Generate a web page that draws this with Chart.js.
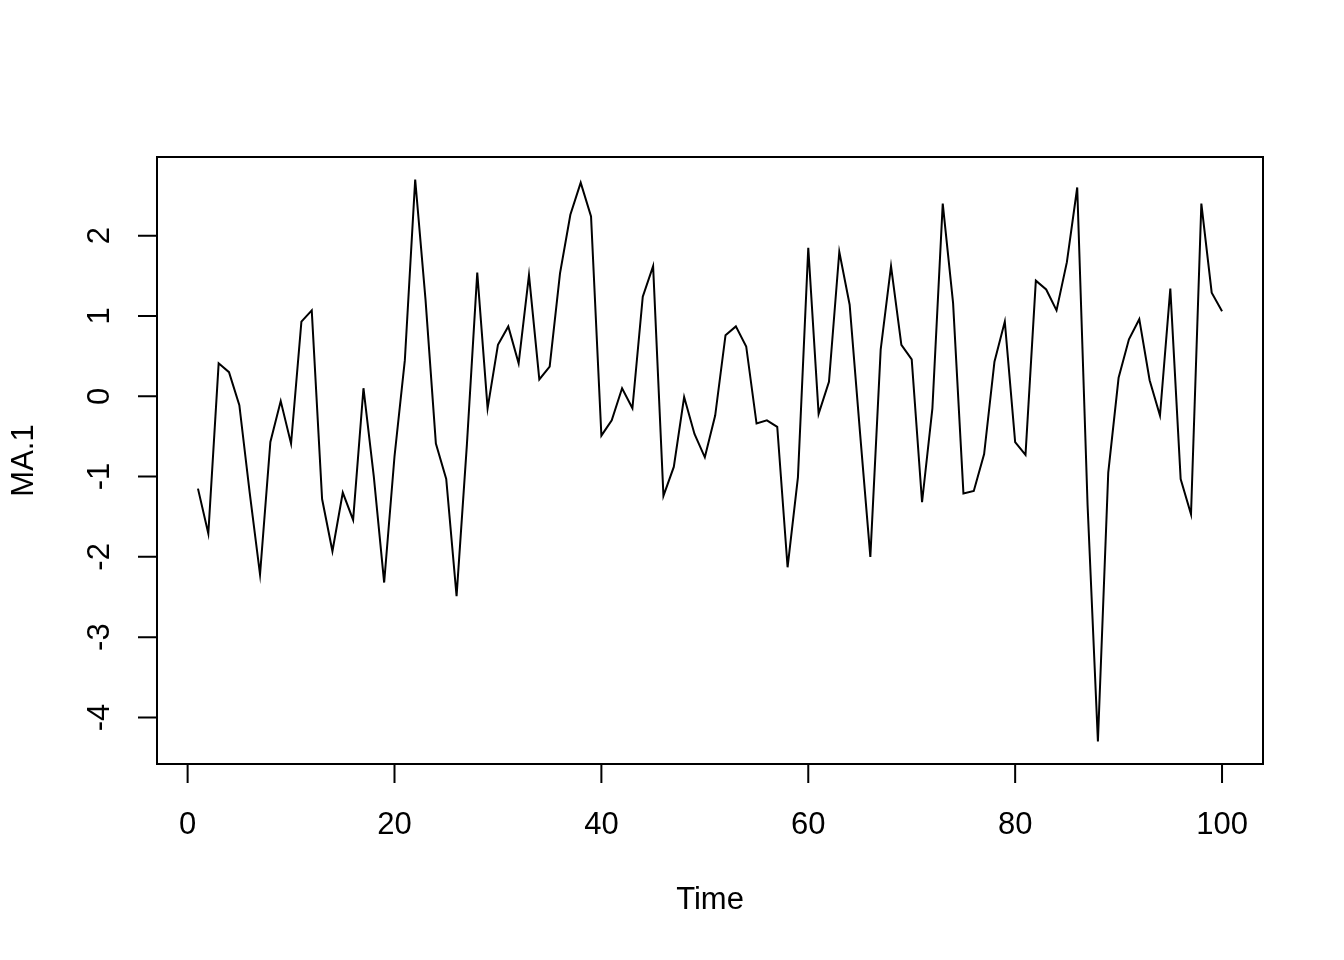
<!DOCTYPE html>
<html>
<head>
<meta charset="utf-8">
<script src="https://cdn.jsdelivr.net/npm/chart.js@4"></script>
<style>
  html, body { margin: 0; padding: 0; background: #fff; }
  #wrap { width: 1344px; height: 960px; }
</style>
</head>
<body>
<div id="wrap"><canvas id="maChart"></canvas></div>
<script>
// time index 1..100
const time = Array.from({ length: 100 }, (_, i) => i + 1);

// MA.1 series
const ma1 = [
  -1.15, -1.71, 0.41, 0.30, -0.11, -1.20, -2.22, -0.57, -0.06, -0.59,
  0.93, 1.07, -1.28, -1.93, -1.20, -1.54, 0.10, -1.00, -2.32, -0.75,
  0.45, 2.70, 1.20, -0.59, -1.03, -2.49, -0.60, 1.54, -0.15, 0.64,
  0.87, 0.41, 1.51, 0.21, 0.37, 1.53, 2.26, 2.66, 2.24, -0.49,
  -0.30, 0.10, -0.15, 1.24, 1.62, -1.24, -0.88, -0.01, -0.47, -0.76,
  -0.24, 0.76, 0.87, 0.62, -0.34, -0.30, -0.38, -2.13, -1.01, 1.85,
  -0.22, 0.18, 1.80, 1.14, -0.45, -2.00, 0.58, 1.62, 0.64, 0.46,
  -1.32, -0.15, 2.40, 1.16, -1.21, -1.18, -0.72, 0.43, 0.93, -0.57,
  -0.73, 1.44, 1.33, 1.07, 1.67, 2.60, -1.35, -4.30, -0.95, 0.23,
  0.71, 0.96, 0.20, -0.24, 1.34, -1.03, -1.47, 2.40, 1.29, 1.06
];

const xTicks = [0, 20, 40, 60, 80, 100];
const yTicks = [-4, -3, -2, -1, 0, 1, 2];
const xTitle = "Time";
const yTitle = "MA.1";

// R style 4% extension of the data range
function pad(arr) {
  const lo = Math.min(...arr), hi = Math.max(...arr);
  const d = (hi - lo) * 0.04;
  return [lo - d, hi + d];
}
const xLim = pad(time);
const yLim = pad(ma1);

const FONT = '31px "Liberation Sans", Arial, sans-serif';

// box, ticks and labels drawn R-like on top of the chart's scales
const rAxes = {
  id: "rAxes",
  afterDraw(chart) {
    const ctx = chart.ctx;
    const a = chart.chartArea;
    const xs = chart.scales.x;
    const ys = chart.scales.y;
    ctx.save();
    ctx.strokeStyle = "#000";
    ctx.fillStyle = "#000";
    ctx.lineWidth = 2;
    ctx.strokeRect(a.left, a.top, a.right - a.left, a.bottom - a.top);

    ctx.font = FONT;
    ctx.textAlign = "center";
    ctx.textBaseline = "middle";

    // x axis
    ctx.beginPath();
    const x0 = xs.getPixelForValue(xTicks[0]);
    const x1 = xs.getPixelForValue(xTicks[xTicks.length - 1]);
    ctx.moveTo(x0, a.bottom);
    ctx.lineTo(x1, a.bottom);
    xTicks.forEach(v => {
      const px = xs.getPixelForValue(v);
      ctx.moveTo(px, a.bottom);
      ctx.lineTo(px, a.bottom + 19);
    });
    ctx.stroke();
    xTicks.forEach(v => {
      ctx.fillText(String(v), xs.getPixelForValue(v), a.bottom + 61);
    });
    ctx.fillText(xTitle, (a.left + a.right) / 2, a.bottom + 136);

    // y axis
    ctx.beginPath();
    yTicks.forEach(v => {
      const py = ys.getPixelForValue(v);
      ctx.moveTo(a.left, py);
      ctx.lineTo(a.left - 19, py);
    });
    ctx.stroke();
    yTicks.forEach(v => {
      const py = ys.getPixelForValue(v);
      ctx.save();
      ctx.translate(a.left - 57, py);
      ctx.rotate(-Math.PI / 2);
      ctx.fillText(String(v), 0, 0);
      ctx.restore();
    });
    ctx.save();
    ctx.translate(a.left - 133, (a.top + a.bottom) / 2);
    ctx.rotate(-Math.PI / 2);
    ctx.fillText(yTitle, 0, 0);
    ctx.restore();

    ctx.restore();
  }
};

const config = {
  type: "line",
  data: {
    datasets: [{
      data: time.map((t, i) => ({ x: t, y: ma1[i] })),
      borderColor: "#000",
      borderWidth: 2,
      pointRadius: 0,
      tension: 0,
      fill: false
    }]
  },
  options: {
    responsive: true,
    maintainAspectRatio: false,
    animation: false,
    layout: { padding: { left: 157, right: 81, top: 157, bottom: 196 } },
    plugins: {
      legend: { display: false },
      tooltip: { enabled: false }
    },
    scales: {
      x: { type: "linear", min: xLim[0], max: xLim[1], display: false },
      y: { type: "linear", min: yLim[0], max: yLim[1], display: false }
    }
  },
  plugins: [rAxes]
};

new Chart(document.getElementById("maChart"), config);
</script>
</body>
</html>
